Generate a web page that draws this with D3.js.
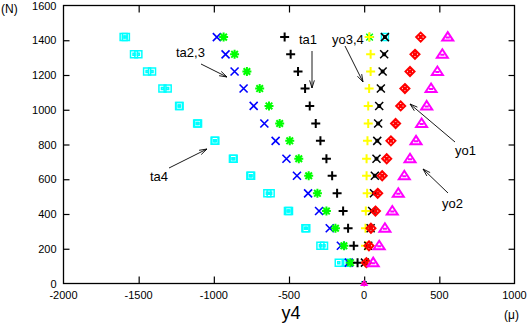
<!DOCTYPE html>
<html><head><meta charset="utf-8">
<script src="https://cdn.jsdelivr.net/npm/d3@7"></script>
<style>body{margin:0;background:#fff}svg{display:block}text{font-family:"Liberation Sans",Arial,sans-serif}</style>
</head><body><svg id="c" width="532" height="329"></svg>
<script>
const loads = [0, 120, 217, 318, 417, 519, 620, 718, 821, 921, 1022, 1122, 1220, 1319, 1418];
const ta4a = [0, -169, -291, -391, -507, -644, -757, -873, -995, -1111, -1231, -1342, -1444, -1531, -1600];
const ta4b = [0, -113, -267, -385, -500, -622, -752, -868, -990, -1105, -1228, -1307, -1411, -1502, -1585];
const ta2 = [0, -102, -155, -229, -300, -373, -447, -517, -589, -664, -735, -802, -862, -922, -980];
const ta3 = [0, -91, -135, -191, -251, -311, -369, -435, -495, -562, -633, -695, -780, -862, -935];
const ta1 = [0, -44, -69, -107, -140, -180, -213, -251, -291, -322, -362, -393, -440, -489, -529];
const yo3 = [0, 9, 9, 9, 11, 20, 16, 16, 22, 27, 27, 33, 43, 43, 33];
const yo4 = [0, 5, 27, 43, 53, 65, 71, 82, 87, 93, 100, 111, 123, 133, 138];
const yo1 = [0, 15, 32, 45, 75, 90, 120, 150, 178, 209, 243, 271, 305, 338, 376];
const yo2 = [0, 60, 100, 138, 187, 227, 267, 305, 345, 382, 416, 445, 487, 520, 556];
// stray points near the top of the yo3,4 column
const extraLoads = [1418];
const extraCyan = [138];
const extraGreen = [36];
const xTicks = [-2000, -1500, -1000, -500, 0, 500, 1000];
const yTicks = [0, 200, 400, 600, 800, 1000, 1200, 1400, 1600];

const svg = d3.select("#c");
const L = 63.5, R = 514.5, T = 5.5, B = 283.5;
const x = d3.scaleLinear([-2000, 1000], [L, R]);
const y = d3.scaleLinear([0, 1600], [B, T]);

svg.append("rect").attr("x", L).attr("y", T).attr("width", R - L).attr("height", B - T)
  .attr("fill", "none").attr("stroke", "#000").attr("stroke-width", 1.3);

const inner = xTicks.slice(1, -1);
const innerY = yTicks.slice(1, -1);
function styleAxis(g) { g.select(".domain").remove(); g.selectAll("line").attr("stroke", "#000").attr("stroke-width", 1.2); }
svg.append("g").attr("transform", `translate(0,${B})`)
  .call(d3.axisBottom(x).tickValues(inner).tickSizeInner(-7).tickFormat("")).call(styleAxis);
svg.append("g").attr("transform", `translate(0,${T})`)
  .call(d3.axisTop(x).tickValues(inner).tickSizeInner(-7).tickFormat("")).call(styleAxis);
svg.append("g").attr("transform", `translate(${L},0)`)
  .call(d3.axisLeft(y).tickValues(innerY).tickSizeInner(-6).tickFormat("")).call(styleAxis);
svg.append("g").attr("transform", `translate(${R},0)`)
  .call(d3.axisRight(y).tickValues(innerY).tickSizeInner(-6).tickFormat("")).call(styleAxis);

const lab = svg.append("g").attr("font-size", 11).attr("fill", "#000");
lab.selectAll(".xl").data(xTicks).join("text").attr("x", d => x(d)).attr("y", B + 15)
  .attr("text-anchor", "middle").text(d => d);
lab.selectAll(".yl").data(yTicks).join("text").attr("x", L - 7).attr("y", d => y(d) + 4)
  .attr("text-anchor", "end").text(d => d);
svg.append("text").attr("x", 1).attr("y", 13).attr("font-size", 12).text("(N)");
svg.append("text").attr("x", 504).attr("y", 319).attr("font-size", 12).text("(μ)");
svg.append("text").attr("x", 291).attr("y", 319).attr("font-size", 18).attr("text-anchor", "middle").text("y4");

const mk = {
  square: (c, k) => `M${c[0]-3.5*k},${c[1]-3.5*k}h${7*k}v${7*k}h${-7*k}zM${c[0]-1*k},${c[1]-1*k}h${2*k}v${2*k}h${-2*k}z`,
  cross: (c, k) => `M${c[0]-4*k},${c[1]-4*k}L${c[0]+4*k},${c[1]+4*k}M${c[0]-4*k},${c[1]+4*k}L${c[0]+4*k},${c[1]-4*k}`,
  plus: (c, k) => `M${c[0]-4.5*k},${c[1]}H${c[0]+4.5*k}M${c[0]},${c[1]-4.5*k}V${c[1]+4.5*k}`,
  star: (c, k) => `M${c[0]-4.5*k},${c[1]}H${c[0]+4.5*k}M${c[0]},${c[1]-4.5*k}V${c[1]+4.5*k}M${c[0]-3.3*k},${c[1]-3.3*k}L${c[0]+3.3*k},${c[1]+3.3*k}M${c[0]-3.3*k},${c[1]+3.3*k}L${c[0]+3.3*k},${c[1]-3.3*k}`,
  xstar: (c, k) => `M${c[0]-4*k},${c[1]-4*k}L${c[0]+4*k},${c[1]+4*k}M${c[0]-4*k},${c[1]+4*k}L${c[0]+4*k},${c[1]-4*k}M${c[0]-2*k},${c[1]}H${c[0]+2*k}M${c[0]},${c[1]-2*k}V${c[1]+2*k}`,
  diamond: (c, k) => `M${c[0]},${c[1]-4.5*k}L${c[0]+4.5*k},${c[1]}L${c[0]},${c[1]+4.5*k}L${c[0]-4.5*k},${c[1]}ZM${c[0]-1*k},${c[1]-1*k}h${2*k}v${2*k}h${-2*k}z`,
  triangle: (c, k) => `M${c[0]},${c[1]-5*k}L${c[0]+5.5*k},${c[1]+3.5*k}L${c[0]-5.5*k},${c[1]+3.5*k}ZM${c[0]-2*k},${c[1]+0.5*k}H${c[0]+2*k}`
};
const series = [
  {v: ta4a, l: loads, m: "square", c: "#00ffff", w: 1.5},
  {v: ta4b, l: loads, m: "square", c: "#00ffff", w: 1.5},
  {v: ta2, l: loads, m: "cross", c: "#0000ff", w: 1.6},
  {v: ta3, l: loads, m: "star", c: "#00ff00", w: 2},
  {v: ta1, l: loads, m: "plus", c: "#000000", w: 2},
  {v: extraGreen, l: extraLoads, m: "star", c: "#00ff00", w: 1.5},
  {v: yo3, l: loads, m: "plus", c: "#ffff00", w: 2},
  {v: extraCyan, l: extraLoads, m: "square", c: "#00ffff", w: 1.5},
  {v: yo4, l: loads, m: "xstar", c: "#000000", w: 1.5},
  {v: yo1, l: loads, m: "diamond", c: "#ff0000", w: 2},
  {v: yo2, l: loads, m: "triangle", c: "#ff00ff", w: 2}
];
series.forEach(s => {
  svg.append("g").selectAll("path").data(s.v).join("path")
    .attr("d", (d, i) => mk[s.m]([x(d), y(s.l[i])], s.l[i] === 0 ? 0.55 : 1))
    .attr("fill", "none").attr("stroke", s.c).attr("stroke-width", (d, i) => s.l[i] === 0 ? 1.2 : s.w);
});

const ann = svg.append("g").attr("font-size", 13);
function arrow(x1, y1, x2, y2) {
  const a = Math.atan2(y2 - y1, x2 - x1), h = 8, s = 0.3;
  const p = `M${x1},${y1}L${x2},${y2}M${x2 - h*Math.cos(a - s)},${y2 - h*Math.sin(a - s)}L${x2},${y2}L${x2 - h*Math.cos(a + s)},${y2 - h*Math.sin(a + s)}`;
  ann.append("path").attr("d", p).attr("fill", "none").attr("stroke", "#000").attr("stroke-width", 0.9);
}
ann.append("text").attr("x", 176).attr("y", 57).text("ta2,3");
arrow(201, 64, 227, 77);
ann.append("text").attr("x", 299).attr("y", 44).text("ta1");
arrow(312, 51, 312, 88);
ann.append("text").attr("x", 332).attr("y", 44).text("yo3,4");
arrow(345, 46, 363, 82);
ann.append("text").attr("x", 455).attr("y", 155).text("yo1");
arrow(455, 142, 410, 104);
ann.append("text").attr("x", 442).attr("y", 208).text("yo2");
arrow(448, 193, 423, 169);
ann.append("text").attr("x", 150).attr("y", 181).text("ta4");
arrow(169, 168, 207, 149);
</script></body></html>
